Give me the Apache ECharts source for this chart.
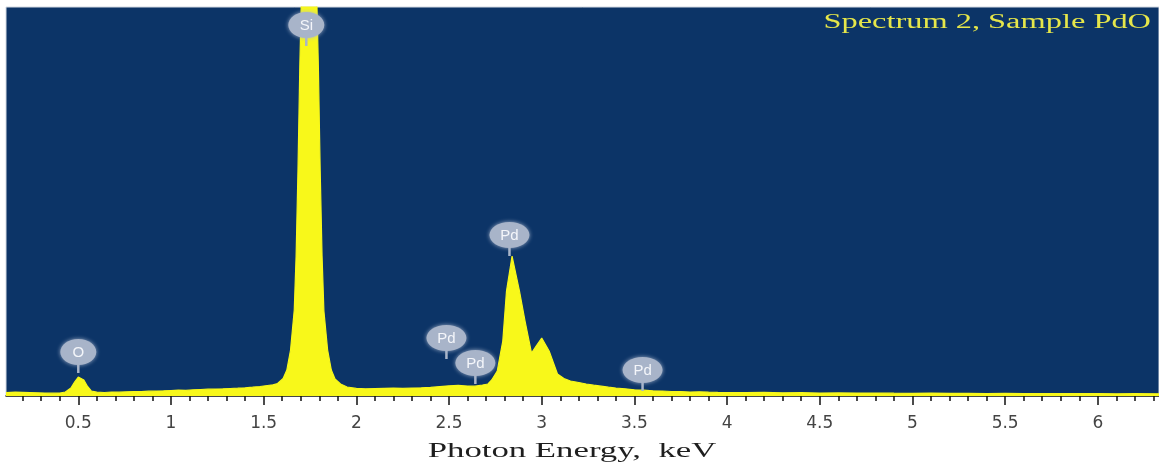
<!DOCTYPE html>
<html>
<head>
<meta charset="utf-8">
<script src="https://cdn.jsdelivr.net/npm/echarts@6/dist/echarts.min.js"></script>
<style>
  html, body { margin: 0; padding: 0; background: #ffffff; }
  #chart { width: 1159px; height: 462px; }
</style>
</head>
<body>
<div id="chart"></div>
<script>
// EDS spectrum of the PdO sample: photon energy (keV) vs. counts
const energy = [
  0.11, 0.16, 0.20, 0.24, 0.28, 0.32, 0.36, 0.40, 0.43, 0.46, 0.48, 0.50, 0.51, 0.53, 0.55, 0.57, 0.60,
  0.64, 0.68, 0.72, 0.76, 0.80, 0.84, 0.88, 0.92, 0.96, 1.00, 1.04, 1.08, 1.12, 1.16, 1.20,
  1.24, 1.28, 1.32, 1.36, 1.40, 1.44, 1.48, 1.52, 1.55, 1.575, 1.605, 1.625, 1.645, 1.665,
  1.675, 1.685, 1.695, 1.705, 1.725, 1.745, 1.765, 1.785, 1.795, 1.805, 1.815, 1.825, 1.845,
  1.865, 1.885, 1.915, 1.95, 2.00, 2.05, 2.10, 2.15, 2.20, 2.25, 2.30, 2.35, 2.40, 2.45,
  2.50, 2.55, 2.60, 2.64, 2.68, 2.71, 2.73, 2.76, 2.79, 2.81, 2.84, 2.88, 2.91, 2.945, 2.97,
  3.00, 3.04, 3.085, 3.12, 3.155, 3.20, 3.24, 3.28, 3.32, 3.36, 3.40, 3.45, 3.50, 3.55, 3.60,
  3.65, 3.70, 3.75, 3.80, 3.85, 3.90, 3.95, 4.00, 4.10, 4.20, 4.30, 4.40, 4.50, 4.60, 4.70,
  4.80, 4.90, 5.00, 5.10, 5.20, 5.30, 5.40, 5.50, 5.60, 5.70, 5.80, 5.90, 6.00, 6.10, 6.20, 6.33
];
const counts = [
  35, 38, 36, 34, 32, 30, 28, 30, 40, 80, 140, 190, 205, 160, 95, 50, 38,
  35, 40, 38, 42, 45, 44, 48, 50, 52, 55, 58, 56, 62, 65, 68,
  70, 72, 75, 78, 82, 88, 95, 105, 112, 125, 175, 260, 460, 860,
  1400, 2250, 3300, 4100, 5000, 5600, 5000, 4100, 3300, 2250, 1400, 850, 460,
  260, 170, 120, 90, 76, 72, 74, 76, 78, 77, 80, 82, 86, 94,
  102, 106, 100, 98, 110, 120, 160, 250, 550, 1050, 1400, 1050, 750, 430, 500,
  580, 450, 220, 175, 150, 135, 120, 108, 98, 88, 80, 72, 62, 58, 52,
  50, 45, 44, 40, 42, 38, 36, 35, 34, 36, 32, 33, 30, 31, 29,
  30, 28, 27, 28, 26, 27, 25, 26, 24, 25, 24, 23, 24, 22, 23, 22
];

// Element markers: name, line energy (keV), counts where the marker stem ends
const markerNames = ['O', 'Si', 'Pd', 'Pd', 'Pd', 'Pd'];
const markerEnergy = [0.50, 1.73, 2.826, 2.486, 2.642, 3.544];
const markerAnchor = [230, 3500, 1400, 370, 120, 50];

// Axis ticks
const majorTicks = [0.5, 1, 1.5, 2, 2.5, 3, 3.5, 4, 4.5, 5, 5.5, 6];
const minorTicks = [
  0.2, 0.3, 0.4, 0.6, 0.7, 0.8, 0.9, 1.1, 1.2, 1.3, 1.4, 1.6, 1.7, 1.8, 1.9,
  2.1, 2.2, 2.3, 2.4, 2.6, 2.7, 2.8, 2.9, 3.1, 3.2, 3.3, 3.4, 3.6, 3.7, 3.8, 3.9,
  4.1, 4.2, 4.3, 4.4, 4.6, 4.7, 4.8, 4.9, 5.1, 5.2, 5.3, 5.4, 5.6, 5.7, 5.8, 5.9,
  6.1, 6.2, 6.3
];

const titleText = 'Spectrum 2, Sample PdO';
const axisTitle = 'Photon Energy,  keV';

const X_MIN = 0.11, X_MAX = 6.33;

const spectrum = energy.map((e, i) => [e, counts[i]]);
const markers = markerEnergy.map((e, i) => [e, markerAnchor[i]]);

const chart = echarts.init(document.getElementById('chart'), null, { renderer: 'canvas' });

chart.setOption({
  animation: false,
  backgroundColor: '#ffffff',
  // Wide-set serif captions
  graphic: [
    {
      type: 'text',
      x: 1151, y: 23,
      scaleX: 1.62,
      z: 10,
      style: {
        text: titleText,
        fill: '#e6e64a',
        font: '20px "Liberation Serif"',
        align: 'right',
        verticalAlign: 'middle'
      }
    },
    {
      type: 'text',
      x: 572, y: 451,
      scaleX: 1.58,
      z: 10,
      style: {
        text: axisTitle,
        fill: '#1e1e1e',
        font: '22px "Liberation Serif"',
        align: 'center',
        verticalAlign: 'middle'
      }
    }
  ],
  grid: {
    left: 6, right: 0, top: 7, bottom: 66,
    show: true,
    backgroundColor: '#0c3467',
    borderColor: '#d3d9e2',
    borderWidth: 1
  },
  xAxis: [
    {
      type: 'value',
      min: X_MIN, max: X_MAX,
      splitLine: { show: false },
      axisLine: { show: true, onZero: false, lineStyle: { color: '#111', width: 1.5 } },
      axisTick: {
        show: true, inside: false, length: 9,
        customValues: majorTicks,
        lineStyle: { color: '#111', width: 1.5 }
      },
      axisLabel: {
        show: true, margin: 19,
        customValues: majorTicks,
        color: '#444444',
        fontFamily: 'DejaVu Sans',
        fontSize: 17
      }
    },
    {
      type: 'value',
      min: X_MIN, max: X_MAX,
      position: 'bottom',
      splitLine: { show: false },
      axisLine: { show: false },
      axisTick: {
        show: true, inside: false, length: 5,
        customValues: minorTicks,
        lineStyle: { color: '#111', width: 1.5 }
      },
      axisLabel: { show: false }
    }
  ],
  yAxis: {
    type: 'value',
    min: 0, max: 3890,
    show: false,
    splitLine: { show: false }
  },
  series: [
    {
      type: 'line',
      data: spectrum,
      xAxisIndex: 0,
      symbol: 'none',
      clip: true,
      lineStyle: { color: '#f8f81a', width: 1.2 },
      areaStyle: { color: '#f8f81a', opacity: 1 },
      z: 2
    },
    {
      type: 'custom',
      xAxisIndex: 0,
      data: markers,
      clip: false,
      z: 5,
      renderItem: function (params, api) {
        const p = api.coord([api.value(0), api.value(1)]);
        const name = markerNames[params.dataIndex];
        const cx = p[0], cy = p[1] - 21;
        const rx = name === 'Pd' ? 20 : 18;
        return {
          type: 'group',
          children: [
            {
              type: 'line',
              shape: { x1: cx, y1: p[1], x2: cx, y2: cy + 8 },
              style: { stroke: '#a9b5c9', lineWidth: 2.5 }
            },
            {
              type: 'ellipse',
              shape: { cx: cx, cy: cy, rx: rx, ry: 13 },
              style: { fill: '#a8b4c9', shadowBlur: 4, shadowColor: 'rgba(170,182,204,0.9)' }
            },
            {
              type: 'text',
              style: {
                x: cx, y: cy + 1,
                text: name,
                fill: '#f4f6fa',
                font: '15px "Liberation Sans"',
                align: 'center',
                verticalAlign: 'middle'
              }
            }
          ]
        };
      }
    }
  ]
});
</script>
</body>
</html>
